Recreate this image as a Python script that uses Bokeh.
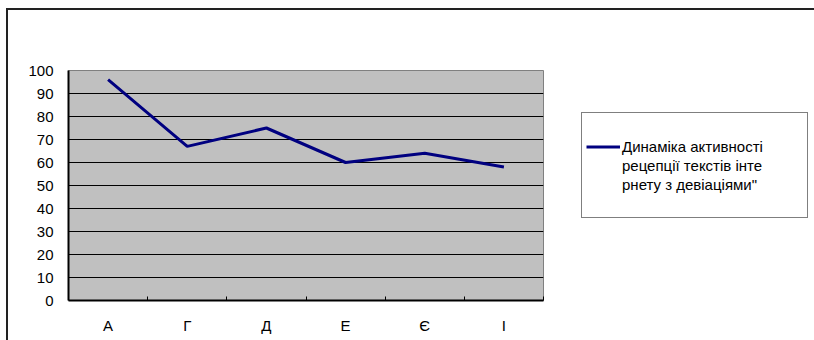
from bokeh.plotting import figure
from bokeh.layouts import row
from bokeh.models import Range1d, FixedTicker, Legend, LegendItem, ColumnDataSource
from bokeh.embed import file_html
from bokeh.resources import INLINE

# Data
categories = ["А", "Г", "Д", "Е", "Є", "І"]
values = [96, 67, 75, 60, 64, 58]
y_ticks = [0, 10, 20, 30, 40, 50, 60, 70, 80, 90, 100]
series_label_lines = ["Динаміка активності", "рецепції текстів інте", "рнету з девіаціями\""]

FONT = "Liberation Sans"
LINE_COLOR = "#000080"

n = len(categories)
centers = [i + 0.5 for i in range(n)]
boundaries = [i for i in range(1, n + 1)]

# ---- main chart -------------------------------------------------------------
p = figure(width=560, height=340, output_backend="svg", toolbar_location=None,
           x_range=Range1d(0, n), y_range=Range1d(0, 100),
           min_border_left=68, min_border_right=17, min_border_top=70,
           min_border_bottom=40)

p.background_fill_color = "#C0C0C0"
p.border_fill_alpha = 0
p.outline_line_color = "#808080"
p.outline_line_width = 1

# x axis: labels at category centres, small inward ticks at boundaries
p.xaxis.ticker = FixedTicker(ticks=centers, minor_ticks=boundaries)
p.xaxis.major_label_overrides = {c: lab for c, lab in zip(centers, categories)}
p.xaxis.major_tick_line_color = None
p.xaxis.minor_tick_in = 4
p.xaxis.minor_tick_out = 0
p.xaxis.minor_tick_line_color = "black"
p.xaxis.axis_line_color = "black"
p.xaxis.axis_line_width = 2
p.xaxis.major_label_standoff = 10
p.xaxis.major_label_text_font = FONT
p.xaxis.major_label_text_font_size = "15px"
p.xaxis.major_label_text_color = "black"

p.yaxis.ticker = FixedTicker(ticks=y_ticks)
p.yaxis.major_tick_line_color = None
p.yaxis.minor_tick_line_color = None
p.yaxis.axis_line_color = "black"
p.yaxis.axis_line_width = 2
p.yaxis.major_label_standoff = 9
p.yaxis.major_label_text_font = FONT
p.yaxis.major_label_text_font_size = "15px"
p.yaxis.major_label_text_color = "black"

p.xgrid.grid_line_color = None
p.ygrid.ticker = FixedTicker(ticks=y_ticks[1:-1])
p.ygrid.grid_line_color = "black"
p.ygrid.grid_line_width = 1

src = ColumnDataSource(dict(x=centers, y=values))
p.line("x", "y", source=src, line_color=LINE_COLOR, line_width=3)

# ---- legend panel -----------------------------------------------------------
pl = figure(width=254, height=340, output_backend="svg", toolbar_location=None,
            x_range=Range1d(0, 1), y_range=Range1d(0, 1),
            x_axis_location=None, y_axis_location=None,
            min_border=0)
pl.grid.visible = False
pl.outline_line_color = None
pl.background_fill_alpha = 0
pl.border_fill_alpha = 0

# legend swatch: same series and style, hidden in this panel
swatch = pl.line("x", "y", source=src, line_color=LINE_COLOR, line_width=3,
                 visible=False)

items = [LegendItem(label=series_label_lines[0], renderers=[swatch])]
items += [LegendItem(label=t, renderers=[]) for t in series_label_lines[1:]]
items += [LegendItem(label=" ", renderers=[])]

legend = Legend(items=items, location=(21, 82),
                glyph_width=34, glyph_height=19, label_standoff=2,
                label_width=181, label_height=19,
                label_text_font=FONT, label_text_font_size="15px",
                label_text_color="black",
                title=" ", title_text_font_size="14px", title_standoff=4,
                border_line_color="black", border_line_width=1,
                background_fill_color="white", background_fill_alpha=1,
                padding=4, margin=0, spacing=0, click_policy="none")
pl.add_layout(legend, "center")

layout = row(p, pl, spacing=0)
# outer chart-area frame drawn behind the transparent canvases
layout.styles = {
    "background": (
        "linear-gradient(#222,#222) 6px 8px / 808px 2px no-repeat, "
        "linear-gradient(#222,#222) 6px 8px / 2px 332px no-repeat, white"
    )
}

open("out.html", "w").write(file_html(layout, INLINE))
